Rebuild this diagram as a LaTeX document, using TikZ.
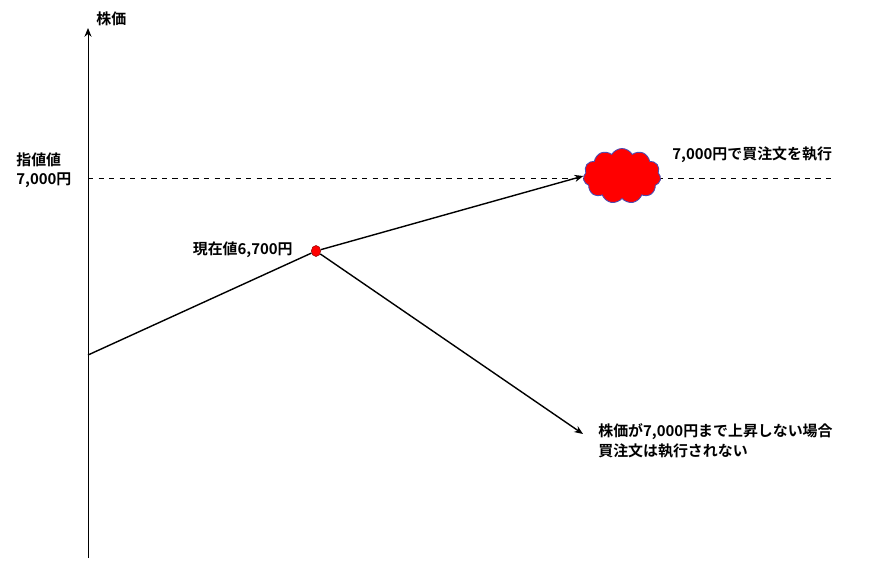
\documentclass[tikz,border=0pt]{standalone}
\usepackage{fontspec}
\setmainfont{Noto Sans CJK JP}[BoldFont={Noto Sans CJK JP Bold}]
\usetikzlibrary{shapes.symbols,arrows.meta}
\tikzset{lbl/.style={font=\fontsize{8.5}{11}\selectfont\bfseries,inner sep=0pt,align=left},
 ln/.style={line width=0.8pt},
 arr/.style={ln,-{Stealth[length=5pt,width=4pt]}}}
\begin{document}
\begin{tikzpicture}[x=0.02cm,y=-0.02cm]
\useasboundingbox (0,0) rectangle (891,578);
\coordinate (ab) at (88,558);
\coordinate (at) at (88,28);
\draw[-{Stealth[length=5pt,width=4pt]},line width=0.5pt] (ab) -- (at);
\node[lbl,anchor=west] (yl) at (96,19) {株価};
\coordinate (d1) at (88,178);
\coordinate (d2) at (835,178);
\draw[dashed,line width=0.4pt] (d1) -- (d2);
\node[lbl,anchor=west] (lim) at (16,170) {指値値\\7,000円};
\coordinate (s) at (88,355);
\node[circle,fill=red,draw=red!60!black,line width=0.3pt,minimum width=0.22cm,minimum height=0.22cm,inner sep=0pt,xscale=0.85] (p) at (316,251) {};
\node[cloud,cloud puffs=11,cloud puff arc=120,aspect=1.3,fill=red,draw=blue!40!gray,line width=0.5pt,minimum width=1.55cm,minimum height=1.1cm,inner sep=0pt] (c) at (622,176) {};
\coordinate (e) at (583,434);
\draw[ln] (s) -- (p);
\draw[arr] (p) -- (c.west);
\draw[arr] (p) -- (e);
\node[lbl,anchor=east] (cur) at (293,250) {現在値6,700円};
\node[lbl,anchor=west] (ex) at (672,155) {7,000円で買注文を執行};
\node[lbl,anchor=west] (nx) at (598,441) {株価が7,000円まで上昇しない場合\\買注文は執行されない};
\end{tikzpicture}
\end{document}
